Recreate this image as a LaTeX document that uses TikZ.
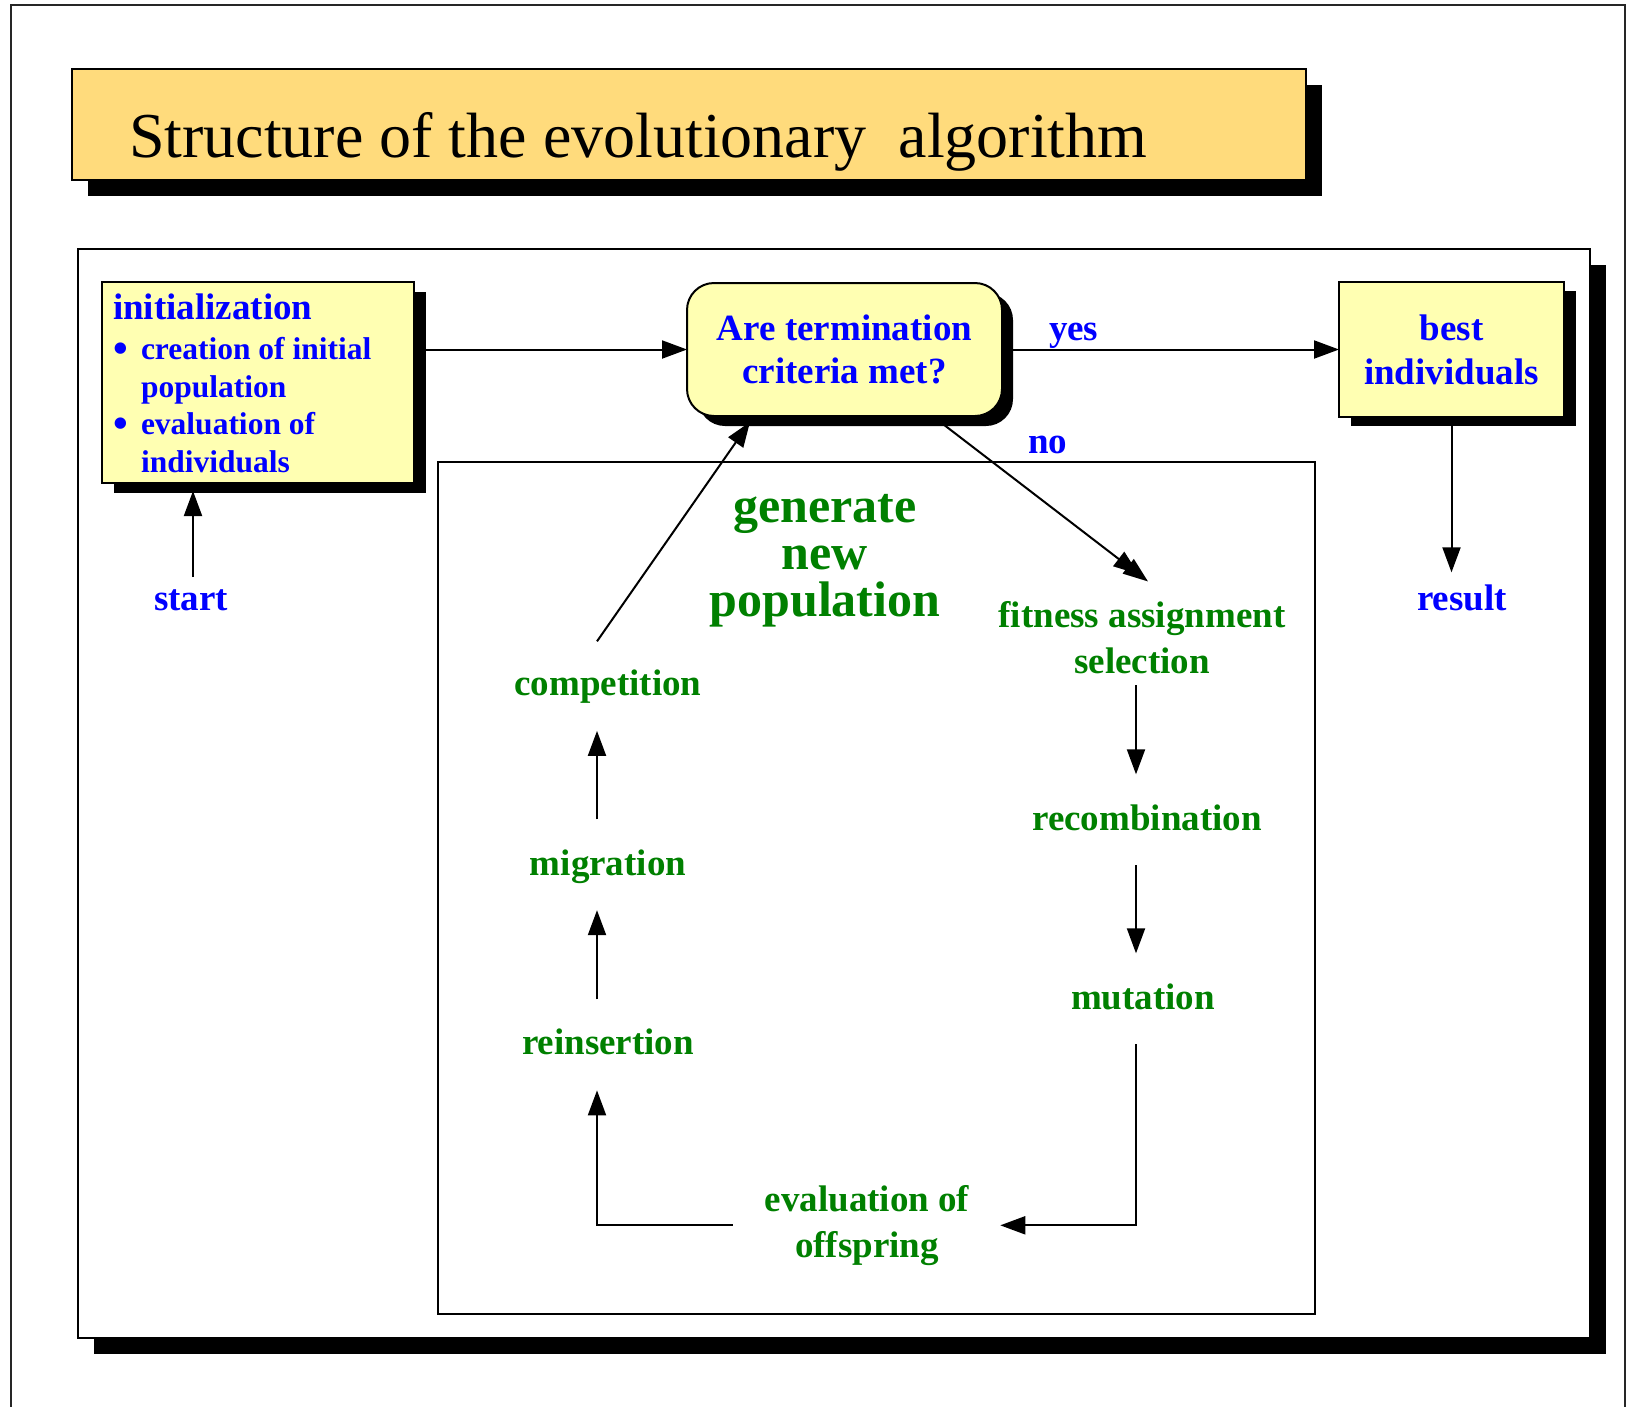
\documentclass[tikz,border=0pt]{standalone}
\usepackage{fontspec}
\setmainfont{Liberation Serif}
\usetikzlibrary{arrows.meta,shadows,calc}
\definecolor{boxyellow}{RGB}{255,255,178}
\definecolor{titleyellow}{RGB}{255,219,124}
\definecolor{tblue}{RGB}{0,0,255}
\definecolor{tgreen}{RGB}{0,128,0}
\newcommand{\bigbul}{\makebox[28pt][l]{\raisebox{-3pt}{\fontsize{42}{42}\selectfont •}}}
\begin{document}
\begin{tikzpicture}[x=1pt,y=-1pt,
  every node/.style={inner sep=0pt,outer sep=0pt},
  shad/.style 2 args={drop shadow={shadow xshift=#1,shadow yshift=-#2,fill=black,opacity=1}},
  ybox/.style={draw,line width=2pt,fill=boxyellow},
  conn/.style={line width=2pt,-{Triangle[length=25pt,width=18pt]}},
  dconn/.style={line width=2pt,-{Triangle[length=25pt,width=18pt,sep=-13pt]Triangle[length=25pt,width=18pt]}},
  bluetxt/.style={text=tblue,font=\bfseries\fontsize{37}{44}\selectfont},
  greentxt/.style={text=tgreen,font=\bfseries\fontsize{37}{45.5}\selectfont},
  gentxt/.style={text=tgreen,font=\bfseries\fontsize{50}{47}\selectfont},
]
\useasboundingbox (0,0) rectangle (1638,1406);
\clip (0,0) rectangle (1638,1406);
% outer page frame
\draw[line width=2pt,draw=black!85] (11,5) rectangle (1625,1460);
% title
\node[draw,line width=2pt,fill=titleyellow,anchor=north west,minimum width=1234pt,minimum height=111pt,shad={16pt}{16pt}] (title) at (72,69) {};
\node[anchor=base west,font=\fontsize{64}{70}\selectfont] (titletext) at (129,157) {Structure of the evolutionary~~algorithm};
% main frame
\node[draw,line width=2pt,fill=white,anchor=north west,minimum width=1512pt,minimum height=1089pt,shad={16pt}{16pt}] (frame) at (78,249) {};
% inner frame
\node[draw,line width=2pt,anchor=north west,minimum width=877pt,minimum height=852pt] (genbox) at (438,462) {};
% boxes
\node[ybox,anchor=north west,minimum width=312pt,minimum height=201pt,shad={12pt}{10pt}] (init) at (102,282) {};
\node[bluetxt,anchor=base west,align=left,font=\bfseries\fontsize{31.5}{37.5}\selectfont] (inittext) at (113,472)
  {{\fontsize{37}{40}\selectfont initialization}\\[2.5pt]
   \bigbul creation of initial\\
   \hspace*{28pt}population\\
   \bigbul evaluation of\\
   \hspace*{28pt}individuals};
\node[ybox,bluetxt,align=center,rounded corners=27pt,minimum width=315pt,minimum height=133pt,shad={11pt}{10pt},font=\bfseries\fontsize{37}{43}\selectfont] (term) at (844.5,349.5) {Are termination\\criteria met?};
\node[ybox,bluetxt,align=center,minimum width=225pt,minimum height=135pt,shad={12pt}{9pt}] (best) at (1451.5,349.5) {best\\individuals};
% labels
\node[bluetxt,anchor=base] (start) at (191,610) {start};
\node[bluetxt,anchor=base] (result) at (1462,610) {result};
\node[bluetxt,anchor=base west] (yes) at (1049,340) {yes};
\node[bluetxt,anchor=base west] (no) at (1028,453) {no};
% generate new population
\node[gentxt,align=center,anchor=base] (gen) at (825,616) {generate\\new\\population};
\node[greentxt,anchor=base] (comp) at (608,695) {competition};
\node[greentxt,anchor=base] (mig) at (608,875) {migration};
\node[greentxt,anchor=base] (rein) at (608,1054) {reinsertion};
\node[greentxt,align=center,anchor=base] (fit) at (1142,673) {fitness assignment\\selection};
\node[greentxt,anchor=base] (rec) at (1147,830) {recombination};
\node[greentxt,anchor=base] (mut) at (1143,1009) {mutation};
\node[greentxt,align=center,anchor=base] (eval) at (867,1257) {evaluation of\\offspring};
% connectors
\draw[conn] (init.east |- term.west) -- (term.west);
\draw[conn] (term.east) -- (best.west);
\draw[conn] ($(start.north)+(2,-12)$) -- ($(start.north |- init.south)+(2,8)$);
\draw[conn] (best.south) -- ($(best.south |- result.north)+(0,-12)$);
\draw[dconn] ($(term.south)+(88,0)$) -- ($(fit.north)+(6,-20)$);
\draw[conn] ($(comp.north)+(-11,-28)$) -- ($(term.south)+(-94.5,6)$);
\draw[conn] ($(mig.north)+(-11,-30)$) -- ($(comp.south)+(-11,28)$);
\draw[conn] ($(rein.north)+(-11,-29)$) -- ($(mig.south)+(-11,27)$);
\draw[conn] ($(eval.west)+(-32,0)$) -| ($(rein.south)+(-11,36)$);
\draw[conn] ($(fit.south)+(-6,12)$) -- ($(rec.north)+(-11,-30)$);
\draw[conn] ($(rec.south)+(-11,35)$) -- ($(mut.north)+(-7,-30)$);
\draw[conn] ($(mut.south)+(-7,35)$) |- ($(eval.east)+(31,0)$);
\end{tikzpicture}
\end{document}
